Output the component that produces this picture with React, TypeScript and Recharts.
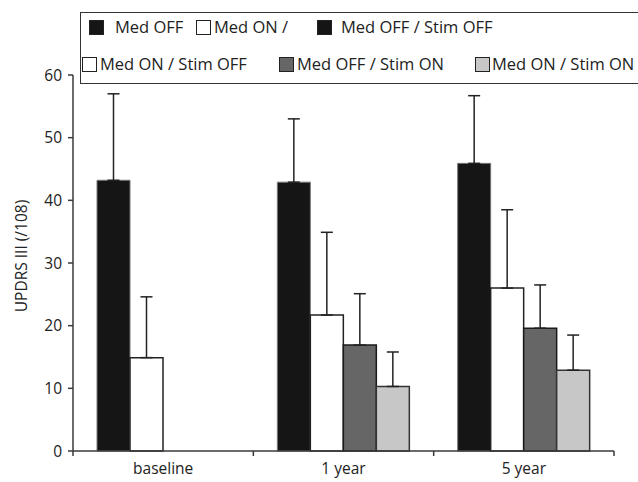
import React from "react";
import { BarChart, Bar, XAxis, YAxis, ErrorBar } from "recharts";

const categories = ["baseline", "1 year", "5 year"];
const medOffStimOff = [43.2, 42.9, 45.9];
const medOffStimOffSd = [13.8, 10.1, 10.8];
const medOnStimOff = [14.9, 21.7, 26.0];
const medOnStimOffSd = [9.7, 13.2, 12.5];
const medOffStimOn = [null, 16.9, 19.6];
const medOffStimOnSd = [null, 8.2, 6.9];
const medOnStimOn = [null, 10.3, 12.9];
const medOnStimOnSd = [null, 5.5, 5.6];
const yTicks = [0, 10, 20, 30, 40, 50, 60];

const legendRow1 = [
  { label: "Med OFF", fill: "#151515" },
  { label: "Med ON /", fill: "#ffffff" },
  { label: "Med OFF / Stim OFF", fill: "#151515" },
];
const legendRow2 = [
  { label: "Med ON / Stim OFF", fill: "#ffffff" },
  { label: "Med OFF / Stim ON", fill: "#666666" },
  { label: "Med ON / Stim ON", fill: "#c6c7c6" },
];

const sdPair = (v: number | null) => (v == null ? null : [0, v]);

const data = categories.map((c, i) => ({
  name: c,
  a: medOffStimOff[i],
  aErr: sdPair(medOffStimOffSd[i]),
  b: medOnStimOff[i],
  bErr: sdPair(medOnStimOffSd[i]),
  c: medOffStimOn[i],
  cErr: sdPair(medOffStimOnSd[i]),
  d: medOnStimOn[i],
  dErr: sdPair(medOnStimOnSd[i]),
}));

const font = "'Open Sans', sans-serif";
const axisColor = "#3a3a3a";
const tickStyle = { fill: "#222", fontSize: 15.5, fontFamily: font };

// square + text offsets inside the legend box
const row1Pos = [
  { sq: 8, tx: 34 },
  { sq: 115, tx: 133 },
  { sq: 236, tx: 260 },
];
const row2Pos = [
  { sq: 1, tx: 19 },
  { sq: 198, tx: 216 },
  { sq: 394, tx: 411 },
];

// category label plus the tick marks between the groups
function CategoryTick(props: any) {
  const { x, y, payload, index, visibleTicksCount } = props;
  const half = payload?.offset ?? 0;
  const axisY = y - 12;
  const last = index === visibleTicksCount - 1;
  return (
    <g>
      <line x1={x - half} x2={x - half} y1={axisY} y2={axisY + 5} stroke={axisColor} strokeWidth={1.5} />
      {last && (
        <line x1={x + half} x2={x + half} y1={axisY} y2={axisY + 5} stroke={axisColor} strokeWidth={1.5} />
      )}
      <text x={x} y={y} dy="0.71em" textAnchor="middle" fontSize={15.5} fontFamily={font} fill="#222">
        {payload.value}
      </text>
    </g>
  );
}

function LegendItem({ fill, label, sq, tx, top }: any) {
  return (
    <>
      <div
        style={{
          position: "absolute",
          left: sq,
          top: top,
          width: 13,
          height: 13,
          background: fill,
          border: "1px solid #222",
        }}
      />
      <div
        style={{
          position: "absolute",
          left: tx,
          top: top - 5,
          fontSize: 16.5,
          fontFamily: font,
          color: "#222",
          whiteSpace: "nowrap",
          lineHeight: "24px",
        }}
      >
        {label}
      </div>
    </>
  );
}

export default function App() {
  return (
    <div
      style={{
        position: "fixed",
        left: 0,
        top: 0,
        width: 638,
        height: 482,
        background: "#fff",
        overflow: "hidden",
      }}
    >
      <BarChart
        width={638}
        height={482}
        data={data}
        margin={{ top: 75, right: 24, left: 0, bottom: 0 }}
        barCategoryGap={24}
        barGap={0}
      >
        <XAxis
          dataKey="name"
          height={31}
          axisLine={{ stroke: axisColor, strokeWidth: 1.5 }}
          tickLine={false}
          tickSize={5}
          tickMargin={7}
          tick={<CategoryTick />}
        />
        <YAxis
          width={73}
          domain={[0, 60]}
          ticks={yTicks}
          axisLine={{ stroke: axisColor, strokeWidth: 1.5 }}
          tickLine={{ stroke: axisColor, strokeWidth: 1.5 }}
          tickSize={5}
          tickMargin={6}
          tick={tickStyle}
          label={{
            content: () => (
              <text
                x={27}
                y={256}
                transform="rotate(-90 27 256)"
                textAnchor="middle"
                fontSize={15.5}
                fontFamily={font}
                fill="#222"
              >
                UPDRS III (/108)
              </text>
            ),
          }}
        />
        <Bar dataKey="a" fill="#151515" stroke="#777" strokeWidth={1} isAnimationActive={false}>
          <ErrorBar dataKey="aErr" width={6} stroke="#222" strokeWidth={1.5} direction="y" />
        </Bar>
        <Bar dataKey="b" fill="#ffffff" stroke="#222" strokeWidth={1.5} isAnimationActive={false}>
          <ErrorBar dataKey="bErr" width={6} stroke="#222" strokeWidth={1.5} direction="y" />
        </Bar>
        <Bar dataKey="c" fill="#666666" stroke="#1a1a1a" strokeWidth={1.5} isAnimationActive={false}>
          <ErrorBar dataKey="cErr" width={6} stroke="#222" strokeWidth={1.5} direction="y" />
        </Bar>
        <Bar dataKey="d" fill="#c6c7c6" stroke="#333" strokeWidth={1.5} isAnimationActive={false}>
          <ErrorBar dataKey="dErr" width={6} stroke="#222" strokeWidth={1.5} direction="y" />
        </Bar>
      </BarChart>
      <div
        style={{
          position: "absolute",
          left: 80,
          top: 12,
          width: 570,
          height: 70,
          border: "1.5px solid #333",
          background: "#fff",
        }}
      >
        {legendRow1.map((it, i) => (
          <LegendItem key={it.label} {...it} {...row1Pos[i]} top={7} />
        ))}
        {legendRow2.map((it, i) => (
          <LegendItem key={it.label} {...it} {...row2Pos[i]} top={44} />
        ))}
      </div>
    </div>
  );
}
